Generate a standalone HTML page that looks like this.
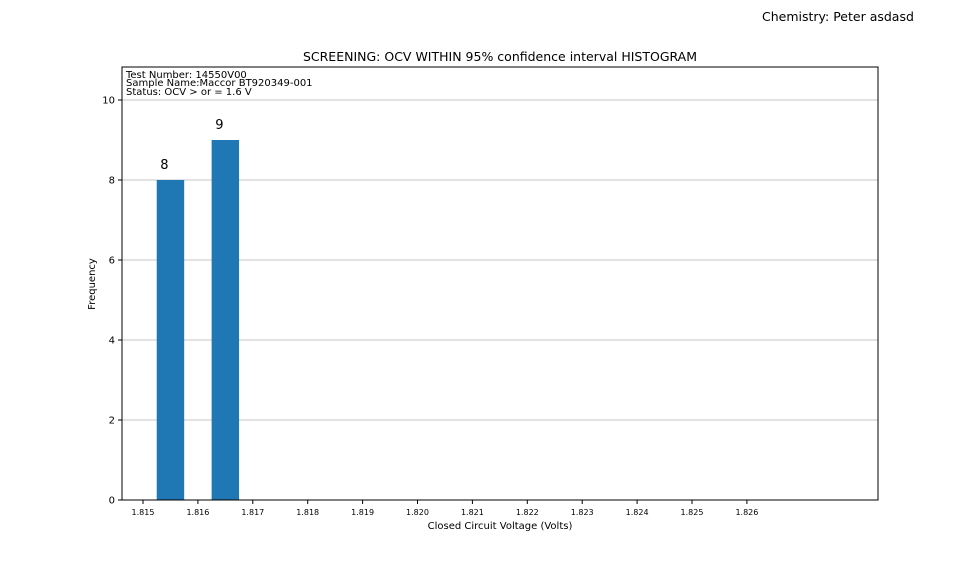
<!DOCTYPE html>
<html><head><meta charset="utf-8"><style>
body{margin:0;background:#fff;}
svg{display:block;font-family:"DejaVu Sans","Liberation Sans",sans-serif;}
</style></head><body>
<svg id="c" width="975" height="562">
<text x="762" y="21" font-size="12.5">Chemistry: Peter asdasd</text>
<text x="500" y="61" font-size="12.5" text-anchor="middle">SCREENING: OCV WITHIN 95% confidence interval HISTOGRAM</text>
<g id="grid"></g>
<g id="bars"></g>
<rect x="122" y="67" width="756" height="433" fill="none" stroke="#000" stroke-width="1"/>
<g id="axes"></g>
<text x="126" y="78" font-size="10">Test Number: 14550V00</text>
<text x="126" y="86" font-size="10">Sample Name:Maccor BT920349-001</text>
<text x="126" y="95" font-size="10">Status: OCV &gt; or = 1.6 V</text>
<text x="500" y="529" font-size="10" text-anchor="middle">Closed Circuit Voltage (Volts)</text>
<text transform="translate(95,284) rotate(-90)" font-size="10" text-anchor="middle">Frequency</text>
</svg>
<script>
const binStarts=[1.81525,1.81625];
const counts=[8,9];
const binWidth=0.0005;
const xTicks=[1.815,1.816,1.817,1.818,1.819,1.820,1.821,1.822,1.823,1.824,1.825,1.826];
const yTicks=[0,2,4,6,8,10];
const NS="http://www.w3.org/2000/svg";
const xs=v=>143+(v-1.815)*54900;
const ys=v=>500-v*40;
function mk(t,a,p){const e=document.createElementNS(NS,t);for(const k in a)e.setAttribute(k,a[k]);p.appendChild(e);return e;}
const grid=document.getElementById('grid'),axes=document.getElementById('axes'),bars=document.getElementById('bars');
yTicks.forEach(v=>{
  if(v>0){const g=mk('line',{x1:122,x2:878,y1:ys(v),y2:ys(v),stroke:'#b0b0b0','stroke-width':0.8},grid);
  
  }
  const t=mk('line',{x1:118,x2:122,y1:ys(v),y2:ys(v),stroke:'#000'},axes);
  
  
  const l=mk('text',{x:115,y:ys(v)+3.5,'font-size':10,'text-anchor':'end'},axes);l.textContent=v;
  
  
});
xTicks.forEach(v=>{
  const t=mk('line',{x1:xs(v),x2:xs(v),y1:500,y2:504,stroke:'#000'},axes);
  
  
  const l=mk('text',{x:xs(v),y:515,'font-size':8,'text-anchor':'middle'},axes);l.textContent=v.toFixed(3);
  
  
});
binStarts.forEach((s,i)=>{
  const x0=xs(s),x1=xs(s+binWidth);
  const r=mk('rect',{x:x0,y:ys(counts[i]),width:x1-x0,height:ys(0)-ys(counts[i]),fill:'#1f77b4'},bars);
  
  
  const l=mk('text',{x:(x0+x1)/2-6,y:ys(counts[i])-11,'font-size':13,'text-anchor':'middle'},bars);l.textContent=counts[i];
  
  
});
</script>
</body></html>
